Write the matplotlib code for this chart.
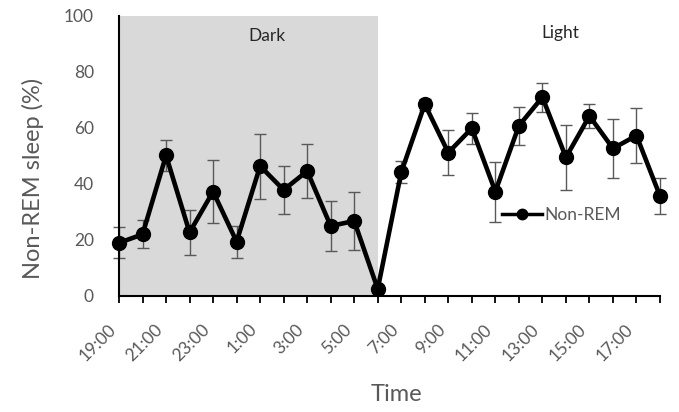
import numpy as np
import matplotlib
matplotlib.use("Agg")
import matplotlib.pyplot as plt
from matplotlib.lines import Line2D
import matplotlib.transforms as mtransforms

plt.rcParams['font.family'] = ['Lato', 'DejaVu Sans']

# hourly non-REM sleep, 19:00 -> 18:00
hours = ['19:00', '20:00', '21:00', '22:00', '23:00', '0:00', '1:00', '2:00',
         '3:00', '4:00', '5:00', '6:00', '7:00', '8:00', '9:00', '10:00',
         '11:00', '12:00', '13:00', '14:00', '15:00', '16:00', '17:00', '18:00']
nrem = [19.0, 22.0, 50.2, 22.7, 37.3, 19.4, 46.4, 37.9, 44.6, 25.0, 26.8, 2.5,
        44.2, 68.5, 51.2, 59.9, 37.3, 60.8, 71.0, 49.5, 64.3, 52.7, 57.3, 35.7]
nrem_err = [5.5, 5.0, 5.5, 8.0, 11.3, 5.7, 11.6, 8.5, 9.7, 9.0, 10.3, 1.0,
            4.0, 2.0, 8.0, 5.6, 10.7, 6.7, 5.2, 11.7, 4.2, 10.4, 9.7, 6.5]
dark_end = '6:00'

gray_txt = '#595959'

fig = plt.figure(figsize=(6.79, 4.12), dpi=100)
ax = fig.add_axes([119/679, 116/412, 541/679, 280/412])

x = np.arange(len(hours))

# dark phase shading
ax.axvspan(0, hours.index(dark_end), color='#d9d9d9', zorder=0, lw=0)

ax.errorbar(x, nrem, yerr=nrem_err, fmt='none', ecolor=gray_txt,
            elinewidth=1.0, capsize=4.5, capthick=1.0, zorder=2, clip_on=False)
ax.plot(x, nrem, color='black', lw=3.3, marker='o', markersize=10,
        zorder=3, clip_on=False)

ax.set_xlim(0, len(hours) - 1)
ax.set_ylim(0, 100)
ax.set_yticks(range(0, 101, 20))

ax.set_xticks(x)
ax.set_xticklabels([h if i % 2 == 0 else '' for i, h in enumerate(hours)],
                   rotation=45, ha='right')
offset = mtransforms.ScaledTranslation(3/72, 0, fig.dpi_scale_trans)
for lab in ax.get_xticklabels():
    lab.set_transform(lab.get_transform() + offset)

ax.tick_params(axis='x', length=5, width=1.3, color='black', pad=13,
               labelsize=12.5, labelcolor=gray_txt)
ax.tick_params(axis='y', length=0, pad=18, labelsize=12.5, labelcolor=gray_txt)

for s in ['top', 'right']:
    ax.spines[s].set_visible(False)
for s in ['left', 'bottom']:
    ax.spines[s].set_linewidth(1.5)
    ax.spines[s].set_color('black')

ax.set_xlabel('Time', fontsize=17, color=gray_txt)
ax.xaxis.set_label_coords(0.512, -0.314)
ax.set_ylabel('Non-REM sleep (%)', fontsize=17, color=gray_txt, va='center')
ax.yaxis.set_label_coords(-0.159, 0.42)

ax.text(6.28, 92.9, 'Dark', fontsize=12.5, color='#262626', ha='center', va='center')
ax.text(18.75, 93.9, 'Light', fontsize=12.5, color='#262626', ha='center', va='center')

handle = Line2D([], [], color='black', lw=2.5, marker='o', markersize=7.5)
ax.legend([handle], ['Non-REM'], loc='center left',
          bbox_to_anchor=(0.708, 0.289), frameon=False, fontsize=12.5,
          labelcolor=gray_txt, handlelength=2.3, handletextpad=0.15,
          borderpad=0, borderaxespad=0)

fig.savefig('out.png', dpi=100)
